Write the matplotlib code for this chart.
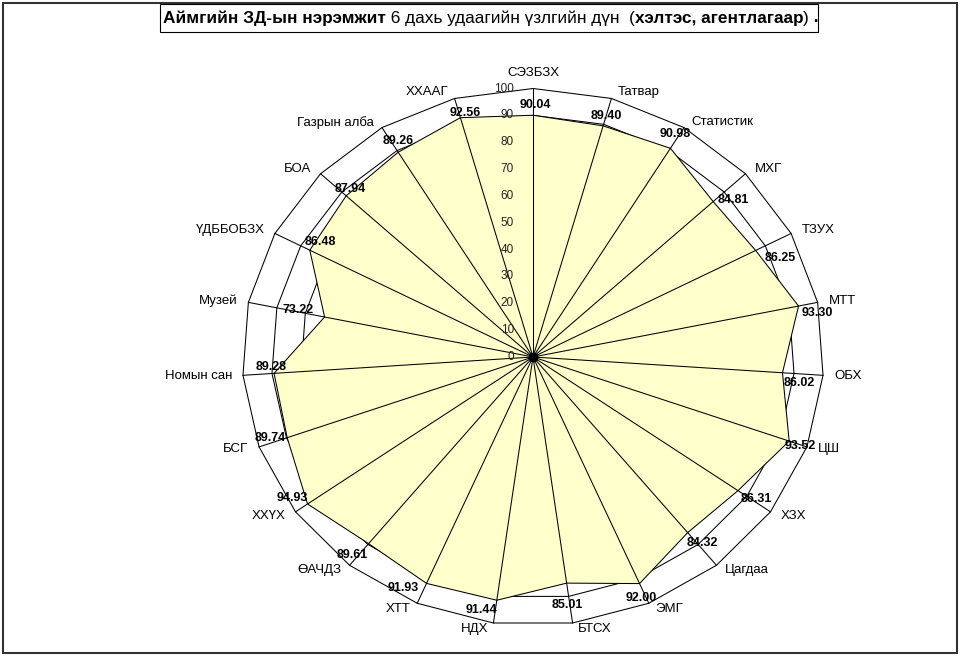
import numpy as np
import matplotlib
matplotlib.use('Agg')
import matplotlib.pyplot as plt
from matplotlib.patches import Polygon, Rectangle

# Данные диаграммы (по часовой стрелке от верхней оси)
categories = ['СЭЗБЗХ', 'Татвар', 'Статистик', 'МХГ', 'ТЗУХ', 'МТТ', 'ОБХ', 'ЦШ',
              'ХЗХ', 'Цагдаа', 'ЭМГ', 'БТСХ', 'НДХ', 'ХТТ', 'ӨАЧДЗ', 'ХХҮХ', 'БСГ',
              'Номын сан', 'Музей', 'ҮДББОБЗХ', 'БОА', 'Газрын алба', 'ХХААГ']
values = [90.04, 89.40, 90.98, 84.81, 86.25, 93.30, 86.02, 93.52, 86.31, 84.32,
          92.00, 85.01, 91.44, 91.93, 89.61, 94.93, 89.74, 89.28, 73.22, 86.48,
          87.94, 89.26, 92.56]
rings = [10, 20, 30, 40, 50, 60, 70, 80, 90, 100]
tick_values = [0, 10, 20, 30, 40, 50, 60, 70, 80, 90, 100]
title_parts = [('Аймгийн ЗД-ын нэрэмжит', 'bold'),
               (' 6 дахь удаагийн үзлгийн дүн  (', 'normal'),
               ('хэлтэс, агентлагаар', 'bold'),
               (')', 'normal'),
               (' .', 'bold')]

# Сдвиги подписей значений относительно вершин (пиксели, вниз - плюс)
label_shift = [(2, -10), (3.5, -9.6), (4.3, -13.8), (20, -2), (25, 8), (19, 7),
               (16.6, 10), (11, 5), (18, 8), (15, 10), (2, 14.6), (0.7, 22),
               (-15, 9.4), (-23, 4.4), (-16, 11.6), (-15, -6), (-17, 0),
               (-3, -6.6), (-27, -7), (11, -7.7), (4, -7), (0, -11.7), (5, -5)]

plt.rcParams['font.family'] = ['Liberation Sans', 'DejaVu Sans']

W, H = 961, 656
CX, CY = 533, 357      # центр в пикселях
RX, RY = 2.907, 2.685  # пикселей на единицу по x и y

fig = plt.figure(figsize=(W / 100, H / 100), dpi=100)
ax = fig.add_axes([0, 0, 1, 1])
ax.set_xlim(-CX / RX, (W - CX) / RX)
ax.set_ylim(-(H - CY) / RY, CY / RY)
ax.axis('off')

n = len(categories)
ang = np.arange(n) * 2 * np.pi / n
s, c = np.sin(ang), np.cos(ang)


def pts(r):
    r = np.asarray(r, dtype=float) * np.ones(n)
    return np.column_stack([r * s, r * c])


# Сетка
for r in rings:
    ax.add_patch(Polygon(pts(r), closed=True, fill=False, ec='black', lw=0.75, zorder=1))

# Ряд данных
ax.add_patch(Polygon(pts(values), closed=True, fc='#FFFFCC', ec='black', lw=0.75, zorder=2))

# Оси
for i in range(n):
    ax.plot([0, 100 * s[i]], [0, 100 * c[i]], color='black', lw=0.75, zorder=3)
ax.plot([0], [0], 'o', color='black', ms=6, zorder=3)

# Подписи шкалы
for v in tick_values:
    ax.annotate(str(v), (0, v), xytext=(-19, 0), textcoords='offset pixels',
                ha='right', va='center', fontsize=8.5, color='#222222', zorder=4)

# Подписи категорий
for i, name in enumerate(categories):
    if abs(s[i]) < 1e-6:
        ha, dx, dy = 'center', 0, 16
    elif s[i] > 0:
        ha, dx, dy = 'left', 4 + 7 * abs(s[i]), 6.5 * c[i]
    else:
        ha, dx, dy = 'right', -(4 + 7 * abs(s[i])), 6.5 * c[i]
    ax.annotate(name, (100 * s[i], 100 * c[i]), xytext=(dx, dy),
                textcoords='offset pixels', ha=ha, va='center', fontsize=9.5, zorder=4)

# Подписи значений
for i, v in enumerate(values):
    dx, dy = label_shift[i]
    ax.annotate(f'{v:.2f}', (v * s[i], v * c[i]), xytext=(dx, -dy),
                textcoords='offset pixels', ha='center', va='center',
                fontsize=9, fontweight='bold', zorder=5)

# Рамки
fig.add_artist(Rectangle((3 / W, (H - 653) / H), 954 / W, 650 / H, fill=False,
                         ec='#333333', lw=1.5, transform=fig.transFigure))
fig.add_artist(Rectangle((160 / W, (H - 32) / H), 658 / W, 28 / H, fill=False,
                         ec='black', lw=0.8, transform=fig.transFigure))

# Заголовок из частей разной насыщенности
renderer = fig.canvas.get_renderer()
x = 163
for txt, weight in title_parts:
    t = fig.text(x / W, 1 - 18 / H, txt, fontweight=weight, fontsize=12.4,
                 ha='left', va='center')
    x += t.get_window_extent(renderer).width

fig.savefig('out.png', dpi=100)
